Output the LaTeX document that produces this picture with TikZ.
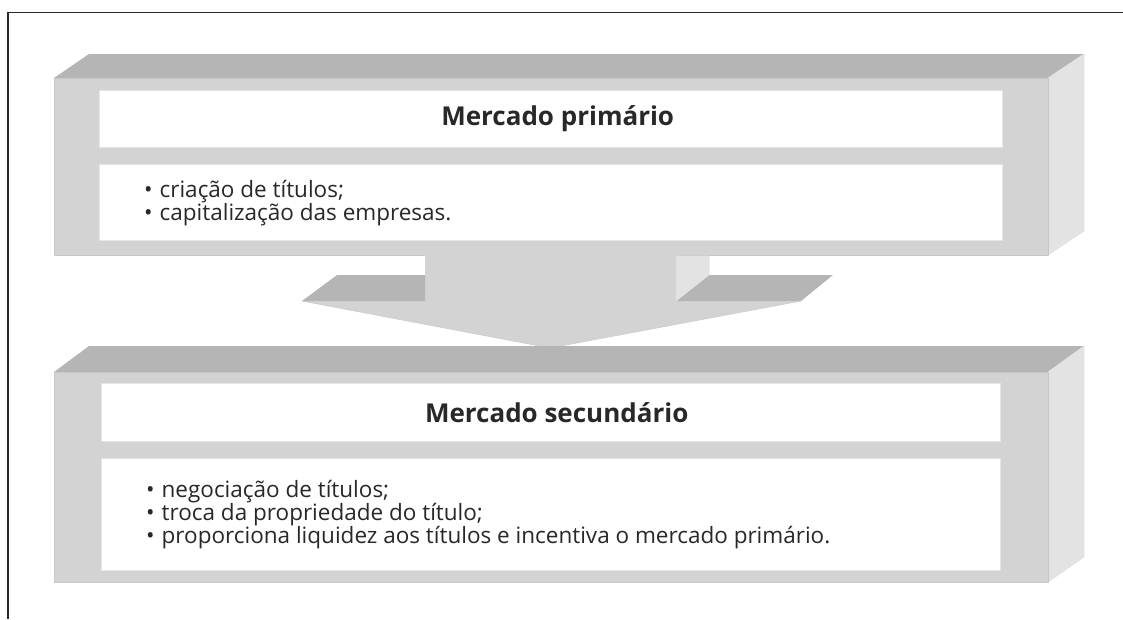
\documentclass[tikz,border=0pt]{standalone}
\usepackage{fontspec}
\setmainfont{Open Sans}
\usetikzlibrary{positioning}

\definecolor{frontgray}{RGB}{211,211,211}
\definecolor{topgray}{RGB}{181,181,181}
\definecolor{sidegray}{RGB}{227,227,227}
\definecolor{inkgray}{RGB}{40,40,40}

\newcommand{\bul}{•\hspace{7pt}}

\tikzset{
  frontface/.style={fill=frontgray, draw=black!22, line width=0.6pt},
  topface/.style={fill=topgray},
  sideface/.style={fill=sidegray, draw=black!12, line width=0.6pt},
  titlepanel/.style={fill=white, draw=black!10, anchor=north west, inner sep=0pt,
    text=inkgray, font=\fontsize{26}{30}\selectfont\bfseries},
  listpanel/.style={fill=white, draw=black!10, anchor=north west, inner sep=0pt},
  items/.style={anchor=west, align=left, text=inkgray, inner sep=0pt,
    font=\fontsize{22.5}{23}\selectfont}
}

\begin{document}
\begin{tikzpicture}[x=1pt,y=-1pt]
\useasboundingbox (0,0) rectangle (1123,619);
\draw[line width=1.3pt, inkgray] (1123,12.5)--(8,12.5)--(8,619);

%upper block
\fill[topface] (54,78)--(89,54)--(1084,54)--(1048,78)--cycle;
\filldraw[sideface] (1048,78)--(1084,54)--(1084,231)--(1048,255)--cycle;
\filldraw[frontface] (54,78) rectangle (1048,255);
\node[titlepanel, minimum width=903pt, minimum height=57pt] (primtitle) at (99,90) {\hspace*{14pt}Mercado primário};
\node[listpanel, minimum width=903pt, minimum height=76pt] (primlist) at (99,164) {};
\node[items] (primitems) at ([xshift=45pt,yshift=-1pt]primlist.west)
  {\bul criação de títulos;\\\bul capitalização das empresas.};

%arrow
\fill[frontgray] (425,250)--(676,250)--(676,301)--(801,301)--(550,348)--(302,301)--(425,301)--cycle;
\fill[topface] (302,301)--(337,275)--(425,275)--(425,301)--cycle;
\fill[topface] (676,301)--(709,275)--(833,275)--(801,301)--cycle;
\fill[sideface] (676,256)--(709,256)--(709,275)--(676,301)--cycle;
\draw[black!20, line width=0.6pt] (302,301)--(550,348)--(801,301);

%lower block
\fill[topface] (54,372)--(89,346)--(1084,346)--(1048,372)--cycle;
\filldraw[sideface] (1048,372)--(1084,346)--(1084,557)--(1048,582)--cycle;
\filldraw[frontface] (54,372) rectangle (1048,582);
\node[titlepanel, minimum width=899pt, minimum height=58pt] (sectitle) at (101,383) {\hspace*{12pt}Mercado secundário};
\node[listpanel, minimum width=899pt, minimum height=112pt] (seclist) at (101,458) {};
\node[items] (secitems) at ([xshift=45pt]seclist.west)
  {\bul negociação de títulos;\\\bul troca da propriedade do título;\\\bul proporciona liquidez aos títulos e incentiva o mercado primário.};
\end{tikzpicture}
\end{document}
